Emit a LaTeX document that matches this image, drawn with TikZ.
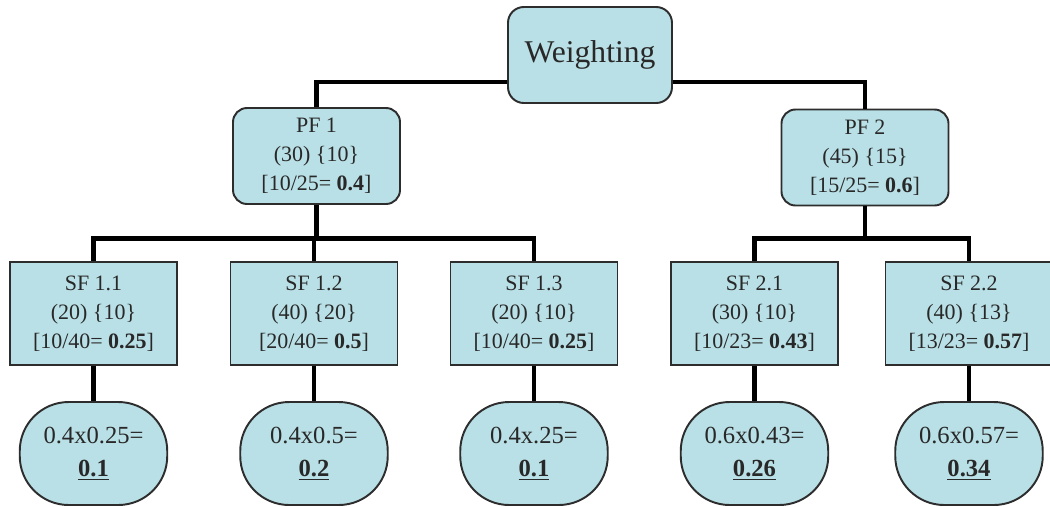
\documentclass[tikz,border=0pt]{standalone}
\usepackage{fontspec}
\setmainfont{Liberation Serif}
\usetikzlibrary{positioning}
\definecolor{boxfill}{RGB}{185,224,230}
\definecolor{boxline}{RGB}{45,45,45}
\definecolor{txtdark}{RGB}{40,40,40}
\tikzset{
  rootbox/.style={rectangle, draw=boxline, fill=boxfill, text=txtdark,
    minimum width=3.28cm, minimum height=1.92cm,
    font=\fontsize{18}{22}\selectfont, rounded corners=9pt, line width=1.1pt},
  pfbox/.style={rectangle, draw=boxline, fill=boxfill, text=txtdark,
    align=center, minimum width=3.34cm, minimum height=1.92cm,
    font=\fontsize{12.5}{16.5}\selectfont, rounded corners=8pt, line width=1.1pt},
  sfbox/.style={rectangle, draw=boxline, fill=boxfill, text=txtdark,
    align=center, minimum width=3.34cm, minimum height=2.06cm,
    font=\fontsize{12.5}{16.5}\selectfont, line width=1.1pt},
  resbox/.style={rectangle, draw=boxline, fill=boxfill, text=txtdark,
    align=center, minimum width=2.95cm, minimum height=2.06cm,
    font=\fontsize{14}{19}\selectfont, rounded corners=0.98cm, line width=1.1pt},
  link/.style={line width=2.4pt, color=black}
}

\begin{document}
\begin{tikzpicture}
  \useasboundingbox (0,0) rectangle (21,-10.12);
  % top
  \node[rootbox] (root) at (11.8,-1.1) {Weighting};
  \node[pfbox] (pf1) at (6.33,-3.12) {PF 1\\(30) \{10\}\\{[}10/25= \textbf{0.4}]};
  \node[pfbox] (pf2) at (17.3,-3.15) {PF 2\\(45) \{15\}\\{[}15/25= \textbf{0.6}]};
  % sub factors
  \node[sfbox] (sf11) at (1.87,-6.27) {SF 1.1\\(20) \{10\}\\{[}10/40= \textbf{0.25}]};
  \node[sfbox] (sf12) at (6.28,-6.27) {SF 1.2\\(40) \{20\}\\{[}20/40= \textbf{0.5}]};
  \node[sfbox] (sf13) at (10.68,-6.27) {SF 1.3\\(20) \{10\}\\{[}10/40= \textbf{0.25}]};
  \node[sfbox] (sf21) at (15.09,-6.27) {SF 2.1\\(30) \{10\}\\{[}10/23= \textbf{0.43}]};
  \node[sfbox] (sf22) at (19.38,-6.27) {SF 2.2\\(40) \{13\}\\{[}13/23= \textbf{0.57}]};
  % global weights
  \node[resbox] (res11) at (1.87,-9.07) {0.4x0.25=\\\underline{\textbf{0.1}}};
  \node[resbox] (res12) at (6.28,-9.07) {0.4x0.5=\\\underline{\textbf{0.2}}};
  \node[resbox] (res13) at (10.68,-9.07) {0.4x.25=\\\underline{\textbf{0.1}}};
  \node[resbox] (res21) at (15.09,-9.07) {0.6x0.43=\\\underline{\textbf{0.26}}};
  \node[resbox] (res22) at (19.38,-9.07) {0.6x0.57=\\\underline{\textbf{0.34}}};
  % connectors
  \draw[link] ([yshift=-0.54cm]root.west) -| (pf1.north);
  \draw[link] ([yshift=-0.54cm]root.east) -| (pf2.north);
  \draw[link] (pf1.south) -- ++(0,-0.67) coordinate (bar1);
  \draw[link] (sf11.north) |- (bar1) -| (sf13.north);
  \draw[link] (sf12.north) -- (sf12.north |- bar1);
  \draw[link] (pf2.south) -- ++(0,-0.64) coordinate (bar2);
  \draw[link] (sf21.north) |- (bar2) -| (sf22.north);
  \foreach \i in {11,12,13,21,22} {
     \draw[link] (sf\i.south) -- (res\i.north);
  }
\end{tikzpicture}
\end{document}
